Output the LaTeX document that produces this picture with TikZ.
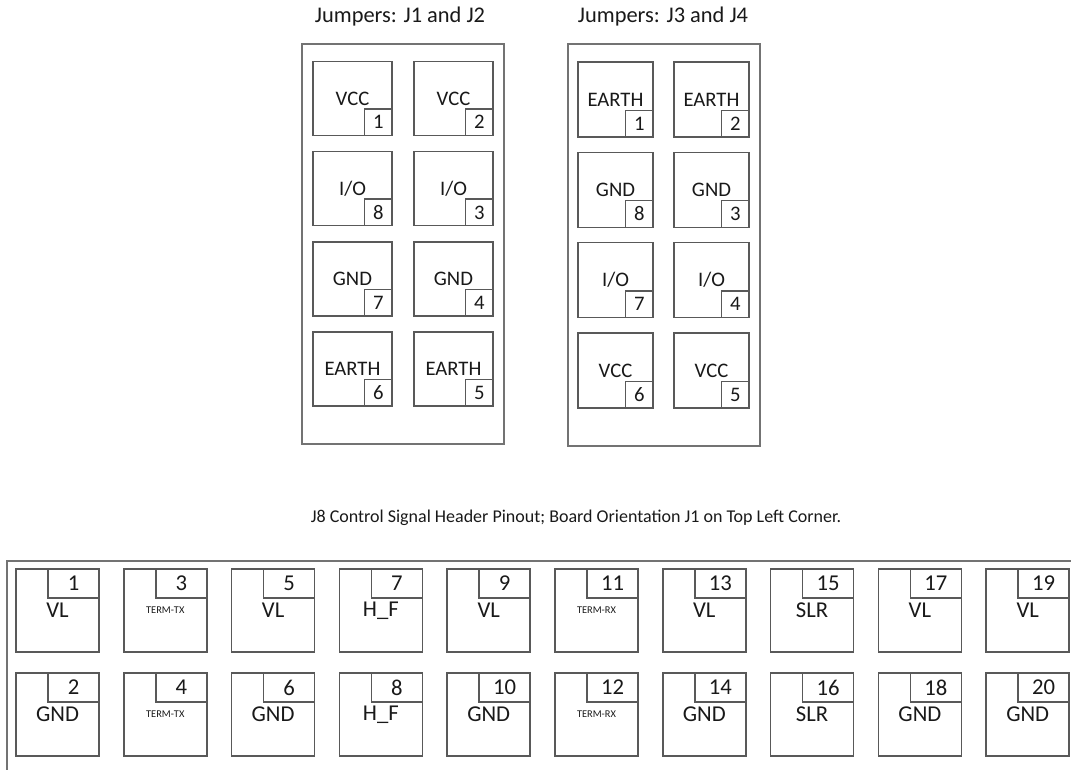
\documentclass[tikz,border=0pt]{standalone}
\usepackage{fontspec}
\setmainfont{Carlito}
\usetikzlibrary{positioning}
\newcommand\termtag[1]{{\fontsize{7.8}{8}\selectfont #1}}

\begin{document}
\begin{tikzpicture}[x=0.75pt,y=-0.75pt,line width=1.1pt,
  font=\fontsize{15.5}{17}\selectfont,text=black!90,
  frame/.style={draw=black!55},
  title/.style={font=\fontsize{16.8}{18}\selectfont},
  lpin/.style={draw=black!65,minimum width=59.25pt,minimum height=55.5pt,inner sep=0pt},
  rpin/.style={draw=black!65,minimum width=56.25pt,minimum height=56.25pt,inner sep=0pt},
  hpin/.style={draw=black!65,minimum width=62.25pt,minimum height=62.25pt,inner sep=0pt,
    font=\fontsize{17}{18}\selectfont},
  jnum/.style={draw=black!65,minimum width=20.5pt,minimum height=20pt,inner sep=0pt,anchor=south east},
  hnum/.style={draw=black!65,minimum width=38.25pt,minimum height=21.75pt,inner sep=0pt,anchor=north east,
    font=\fontsize{17}{18}\selectfont}]
  \useasboundingbox (0,0) rectangle (1071,770);
  \clip (0,0) rectangle (1071,770);
  % jumpers J1 and J2
  \node[title] (t12) at (400,17) {Jumpers: J1 and J2};
  \draw[frame] (302,44) rectangle (504,444);
  \foreach \pa/\pb/\lab [count=\r] in {1/2/VCC,8/3/{I/O},7/4/GND,6/5/EARTH} {
    \node[lpin] (jl\pa) at (352.5,{98.5+90.2*(\r-1)}) {\lab};
    \node[lpin] (jl\pb) at (453.5,{98.5+90.2*(\r-1)}) {\lab};
    \node[jnum] (nl\pa) at (jl\pa.south east) {\pa};
    \node[jnum] (nl\pb) at (jl\pb.south east) {\pb};
  }
  % jumpers J3 and J4
  \node[title] (t34) at (663,17) {Jumpers: J3 and J4};
  \draw[frame] (568,44) rectangle (760,446);
  \foreach \pa/\pb/\lab [count=\r] in {1/2/EARTH,8/3/GND,7/4/{I/O},6/5/VCC} {
    \node[rpin] (jr\pa) at (615.5,{99.5+90.3*(\r-1)}) {\lab};
    \node[rpin] (jr\pb) at (711.5,{99.5+90.3*(\r-1)}) {\lab};
    \node[jnum] (nr\pa) at (jr\pa.south east) {\pa};
    \node[jnum] (nr\pb) at (jr\pb.south east) {\pb};
  }
  % J8 header
  \node[font=\fontsize{13.5}{15}\selectfont] (t8) at (576,518)
    {J8 Control Signal Header Pinout; Board Orientation J1 on Top Left Corner.};
  \draw[frame] (7,561) rectangle (1100,800);
  \foreach \ta/\tb [count=\i from 0] in {VL/GND,\termtag{TERM-TX}/\termtag{TERM-TX},VL/GND,
      H\_F/H\_F,VL/GND,\termtag{TERM-RX}/\termtag{TERM-RX},VL/GND,SLR/SLR,VL/GND,VL/GND} {
    \pgfmathtruncatemacro\po{2*\i+1}
    \pgfmathtruncatemacro\pe{2*\i+2}
    \node[hpin] (h\po) at ({57.5+107.8*\i},610.5) {\ta};
    \node[hpin] (h\pe) at ({57.5+107.8*\i},714.5) {\tb};
    \node[hnum] (hn\po) at (h\po.north east) {\po};
    \node[hnum] (hn\pe) at (h\pe.north east) {\pe};
  }
\end{tikzpicture}
\end{document}
